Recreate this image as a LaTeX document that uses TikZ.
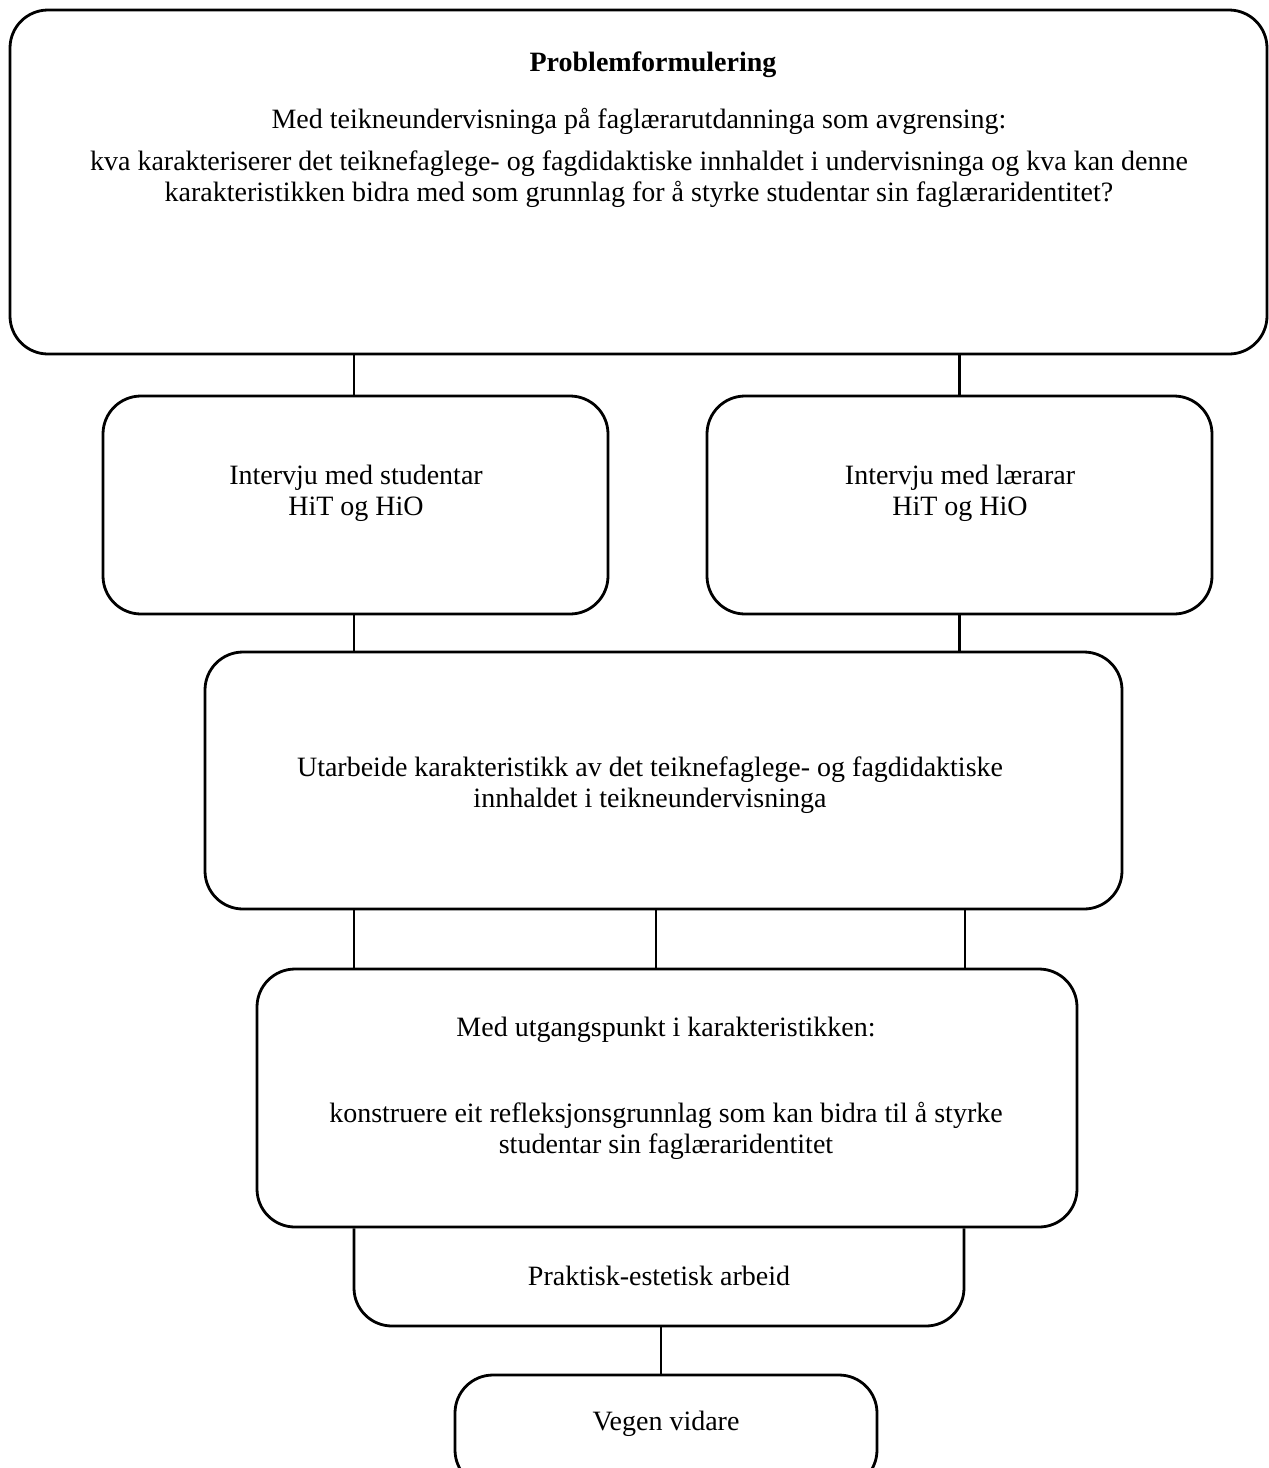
\documentclass[tikz,border=0pt]{standalone}
\usepackage{fontspec}
\setmainfont{Liberation Serif}
\begin{document}
\begin{tikzpicture}[x=1pt,y=-1pt,
  box/.style={draw, line width=2.8pt, rounded corners=38pt, inner sep=0pt},
  txt/.style={align=center, inner sep=0pt, font=\fontsize{28}{31}\selectfont},
  conn/.style={line width=2.8pt}]
\useasboundingbox (0,0) rectangle (1269,1468);
\clip (0,0) rectangle (1269,1468);
% boxes
\node[box, minimum width=1257pt, minimum height=344pt] (top) at (638.5,182) {};
\node[box, minimum width=505pt, minimum height=218pt] (A) at (355.5,505) {};
\node[box, minimum width=505pt, minimum height=218pt] (B) at (959.5,505) {};
\node[box, minimum width=917pt, minimum height=257pt] (C) at (663.5,780.5) {};
\node[box, minimum width=820pt, minimum height=258pt] (D) at (667,1098) {};
\node[box, minimum width=422pt, minimum height=113pt] (V) at (666,1431.5) {};
% texts
\node[txt, font=\fontsize{28}{31}\selectfont\bfseries] (t1) at (653,65) {Problemformulering};
\node[txt] (t2) at (639,121) {Med teikneundervisninga på faglærarutdanninga som avgrensing:};
\node[txt] (t3) at (639,179) {kva karakteriserer det teiknefaglege- og fagdidaktiske innhaldet i undervisninga og kva kan denne\\karakteristikken bidra med som grunnlag for å styrke studentar sin faglæraridentitet?};
\node[txt] (tA) at (356,493) {Intervju med studentar\\HiT og HiO};
\node[txt] (tB) at (960,493) {Intervju med lærarar\\HiT og HiO};
\node[txt] (tC) at (650,785) {Utarbeide karakteristikk av det teiknefaglege- og fagdidaktiske\\innhaldet i teikneundervisninga};
\node[txt] (tD1) at (666,1030) {Med utgangspunkt i karakteristikken:};
\node[txt] (tD2) at (666,1131) {konstruere eit refleksjonsgrunnlag som kan bidra til å styrke\\studentar sin faglæraridentitet};
\node[txt] (P) at (659,1276) {Praktisk-estetisk arbeid};
\node[txt] (tV) at (666,1424) {Vegen vidare};
% helper coordinates
\coordinate (k1) at (354,0);
\coordinate (k2) at (656,0);
\coordinate (k3) at (965,0);
\coordinate (pl) at (354,0);
\coordinate (pr) at (964,0);
\coordinate (pb) at (0,1326);
\coordinate (k4) at (661,0);
% Praktisk outline (open at top, joins D)
\draw[conn, rounded corners=38pt] (D.south -| pl) -- (pl |- pb) -- (pr |- pb) -- (D.south -| pr);
% connectors
\draw[conn] (top.south -| k1) -- (A.north -| k1);
\draw[conn] (top.south -| B.north) -- (B.north);
\draw[conn] (A.south -| k1) -- (C.north -| k1);
\draw[conn] (B.south) -- (B.south |- C.north);
\draw[conn] (C.south -| k1) -- (D.north -| k1);
\draw[conn] (C.south -| k2) -- (D.north -| k2);
\draw[conn] (C.south -| k3) -- (D.north -| k3);
\draw[conn] (k4 |- pb) -- (V.north -| k4);
\end{tikzpicture}
\end{document}
